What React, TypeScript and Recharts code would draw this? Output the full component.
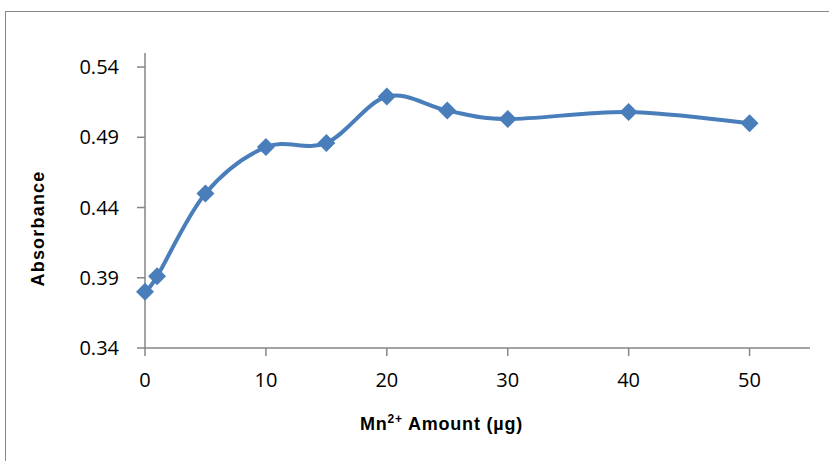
import { LineChart, Line, XAxis, YAxis, Label } from 'recharts'

const amounts = [0, 1, 5, 10, 15, 20, 25, 30, 40, 50]
const absorbance = [0.38, 0.391, 0.45, 0.483, 0.486, 0.519, 0.509, 0.503, 0.508, 0.5]
const xTicks = [0, 10, 20, 30, 40, 50]
const yTicks = [0.34, 0.39, 0.44, 0.49, 0.54]

const data = amounts.map((a, i) => ({ amount: a, abs: absorbance[i] }))

const BLUE = '#4A7EBB'
const AXIS = '#868686'

// Excel-style smoothed line (cardinal bezier)
function excelCurve(context: any) {
  let pts: number[][] = []
  return {
    areaStart() {},
    areaEnd() {},
    lineStart() { pts = [] },
    lineEnd() {
      if (!pts.length) return
      context.moveTo(pts[0][0], pts[0][1])
      for (let i = 0; i < pts.length - 1; i++) {
        const p0 = pts[i - 1] || pts[i]
        const p1 = pts[i]
        const p2 = pts[i + 1]
        const p3 = pts[i + 2] || p2
        context.bezierCurveTo(
          p1[0] + (p2[0] - p0[0]) / 6, p1[1] + (p2[1] - p0[1]) / 6,
          p2[0] - (p3[0] - p1[0]) / 6, p2[1] - (p3[1] - p1[1]) / 6,
          p2[0], p2[1],
        )
      }
    },
    point(x: number, y: number) { pts.push([+x, +y]) },
  }
}

const Diamond = ({ cx, cy }: any) => {
  if (cx == null || cy == null) return null
  const r = 9
  return <path d={`M${cx},${cy - r}L${cx + r},${cy}L${cx},${cy + r}L${cx - r},${cy}Z`} fill={BLUE} />
}

const tickFont = { fontFamily: 'Open Sans', fontSize: 20, fill: '#000' }

export default function App() {
  return (
    <div style={{ position: 'absolute', left: 0, top: 0, width: 829, height: 461, overflow: 'hidden', background: '#fff' }}>
      <div style={{ position: 'absolute', left: 5, top: 11, width: 860, height: 480, border: `1.5px solid ${AXIS}` }} />
      <div style={{ position: 'absolute', left: 0, top: 0 }}>
        <LineChart width={829} height={461} data={data} margin={{ top: 53, right: 19, bottom: 53, left: 0 }}>
          <XAxis
            dataKey="amount"
            type="number"
            domain={[0, 55]}
            ticks={xTicks}
            stroke={AXIS}
            strokeWidth={1.5}
            tickSize={8}
            tickMargin={17}
            tick={tickFont}
            height={60}
          >
            <Label
              content={({ viewBox }: any) => (
                <text
                  x={viewBox.x + viewBox.width / 2 - 36}
                  y={viewBox.y + 82}
                  textAnchor="middle"
                  fontFamily="Liberation Sans"
                  fontWeight="bold"
                  fontSize={18}
                  letterSpacing={0.8}
                  fill="#000"
                >
                  Mn<tspan fontSize={12} dy={-7}>2+</tspan>
                  <tspan dy={7}> Amount (µg)</tspan>
                </text>
              )}
            />
          </XAxis>
          <YAxis
            type="number"
            domain={[0.34, 0.55]}
            ticks={yTicks}
            allowDataOverflow
            stroke={AXIS}
            strokeWidth={1.5}
            tickSize={8}
            tickMargin={18}
            tick={tickFont}
            width={145}
            tickFormatter={(v: number) => v.toFixed(2)}
          >
            <Label
              content={({ viewBox }: any) => {
                const cx = 38
                const cy = viewBox.y + viewBox.height / 2 + 28
                return (
                  <text
                    x={cx}
                    y={cy}
                    transform={`rotate(-90 ${cx} ${cy})`}
                    textAnchor="middle"
                    dominantBaseline="central"
                    fontFamily="Liberation Sans"
                    fontWeight="bold"
                    fontSize={18}
                    letterSpacing={1.2}
                    fill="#000"
                  >
                    Absorbance
                  </text>
                )
              }}
            />
          </YAxis>
          <Line
            dataKey="abs"
            type={excelCurve as any}
            stroke={BLUE}
            strokeWidth={4}
            dot={<Diamond />}
            activeDot={false}
            isAnimationActive={false}
          />
        </LineChart>
      </div>
    </div>
  )
}
